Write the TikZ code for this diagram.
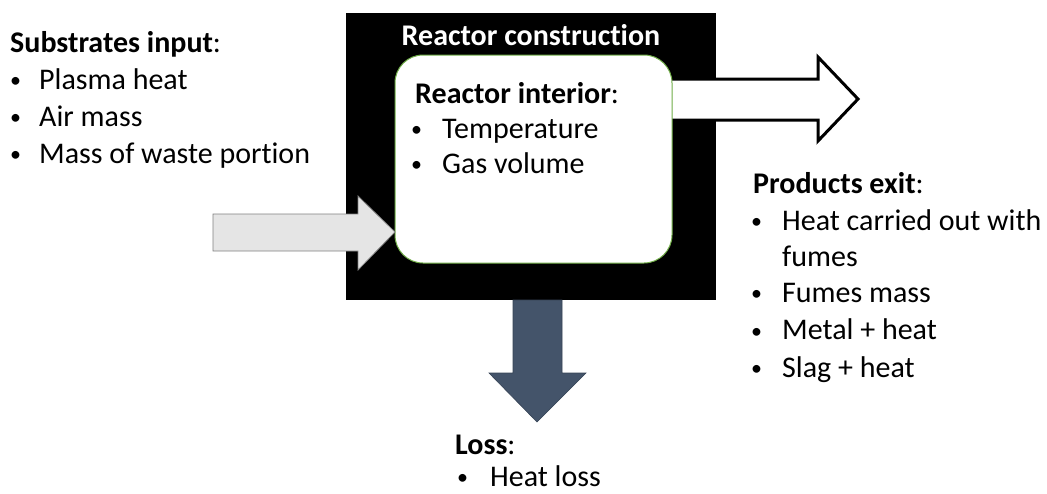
\documentclass[tikz,border=0pt]{standalone}
\usepackage{fontspec}
\setmainfont{Carlito}[Ligatures=NoCommon]
\usetikzlibrary{positioning}
\definecolor{slate}{HTML}{44546A}
\definecolor{leaf}{HTML}{70AD47}
\newcommand{\txt}{\fontsize{30}{37}\selectfont}
\newcommand{\bul}{{\fontsize{22}{22}\selectfont\raisebox{1.5pt}{\textbullet}}}

\begin{document}
\begin{tikzpicture}[x=1pt, y=-1pt,
    every node/.style={font=\txt, inner sep=0pt},
    head/.style={anchor=base west, font=\txt\bfseries},
    item/.style={anchor=base west},
    dot/.style={anchor=base west}]
  \useasboundingbox (0,0) rectangle (1047,493);

  % Reactor construction (outer box)
  \fill[black] (346,13) rectangle (716,300);
  \node[anchor=base, text=white, font=\txt\bfseries] (construction) at (531,45) {Reactor construction};

  % Products arrow (under the interior)
  \draw[black, line width=3pt, fill=white, line join=miter]
    (660,79) -- (818,79) -- (818,57) -- (858,99) -- (818,141) -- (818,120) -- (660,120) -- cycle;

  % Reactor interior
  \draw[leaf, line width=1pt, fill=white, rounded corners=28pt] (395,55) rectangle (672,263);

  % Substrates arrow
  \draw[gray, line width=0.8pt, fill=gray!20]
    (213,214) -- (358,214) -- (358,196) -- (395,232) -- (358,270) -- (358,251) -- (213,251) -- cycle;

  % Loss arrow
  \draw[slate!80!black, line width=0.6pt, fill=slate]
    (513,300) -- (513,373) -- (489,373) -- (537,422) -- (586,373) -- (562,373) -- (562,300) -- cycle;

  % Substrates input
  \node[head] (subst) at (10,52) {Substrates input\textmd{:}};
  \foreach \t [count=\i] in {Plasma heat, Air mass, Mass of waste portion} {
    \node[dot] at (10,52+37*\i) {\bul};
    \node[item] (subst\i) at (39,52+37*\i) {\t};
  }

  % Reactor interior
  \node[head] (inter) at (415,103) {Reactor interior\textmd{:}};
  \foreach \t [count=\i] in {Temperature, Gas volume} {
    \node[dot] at (411,103+35*\i) {\bul};
    \node[item] (inter\i) at (442,103+35*\i) {\t};
  }

  % Products exit
  \node[head] (prod) at (753,193) {Products exit\textmd{:}};
  \node[dot] at (751,230) {\bul};
  \node[item] (prod1) at (782,230) {Heat carried out with};
  \node[item] (prod1b) at (782,266) {fumes};
  \foreach \t [count=\i from 2] in {Fumes mass, Metal + heat, Slag + heat} {
    \node[dot] at (751,227+37.5*\i) {\bul};
    \node[item] (prod\i) at (782,227+37.5*\i) {\t};
  }

  % Loss
  \node[head] (loss) at (455,454) {Loss\textmd{:}};
  \node[dot] at (457,486) {\bul};
  \node[item] (loss1) at (490,486) {Heat loss};
\end{tikzpicture}
\end{document}
